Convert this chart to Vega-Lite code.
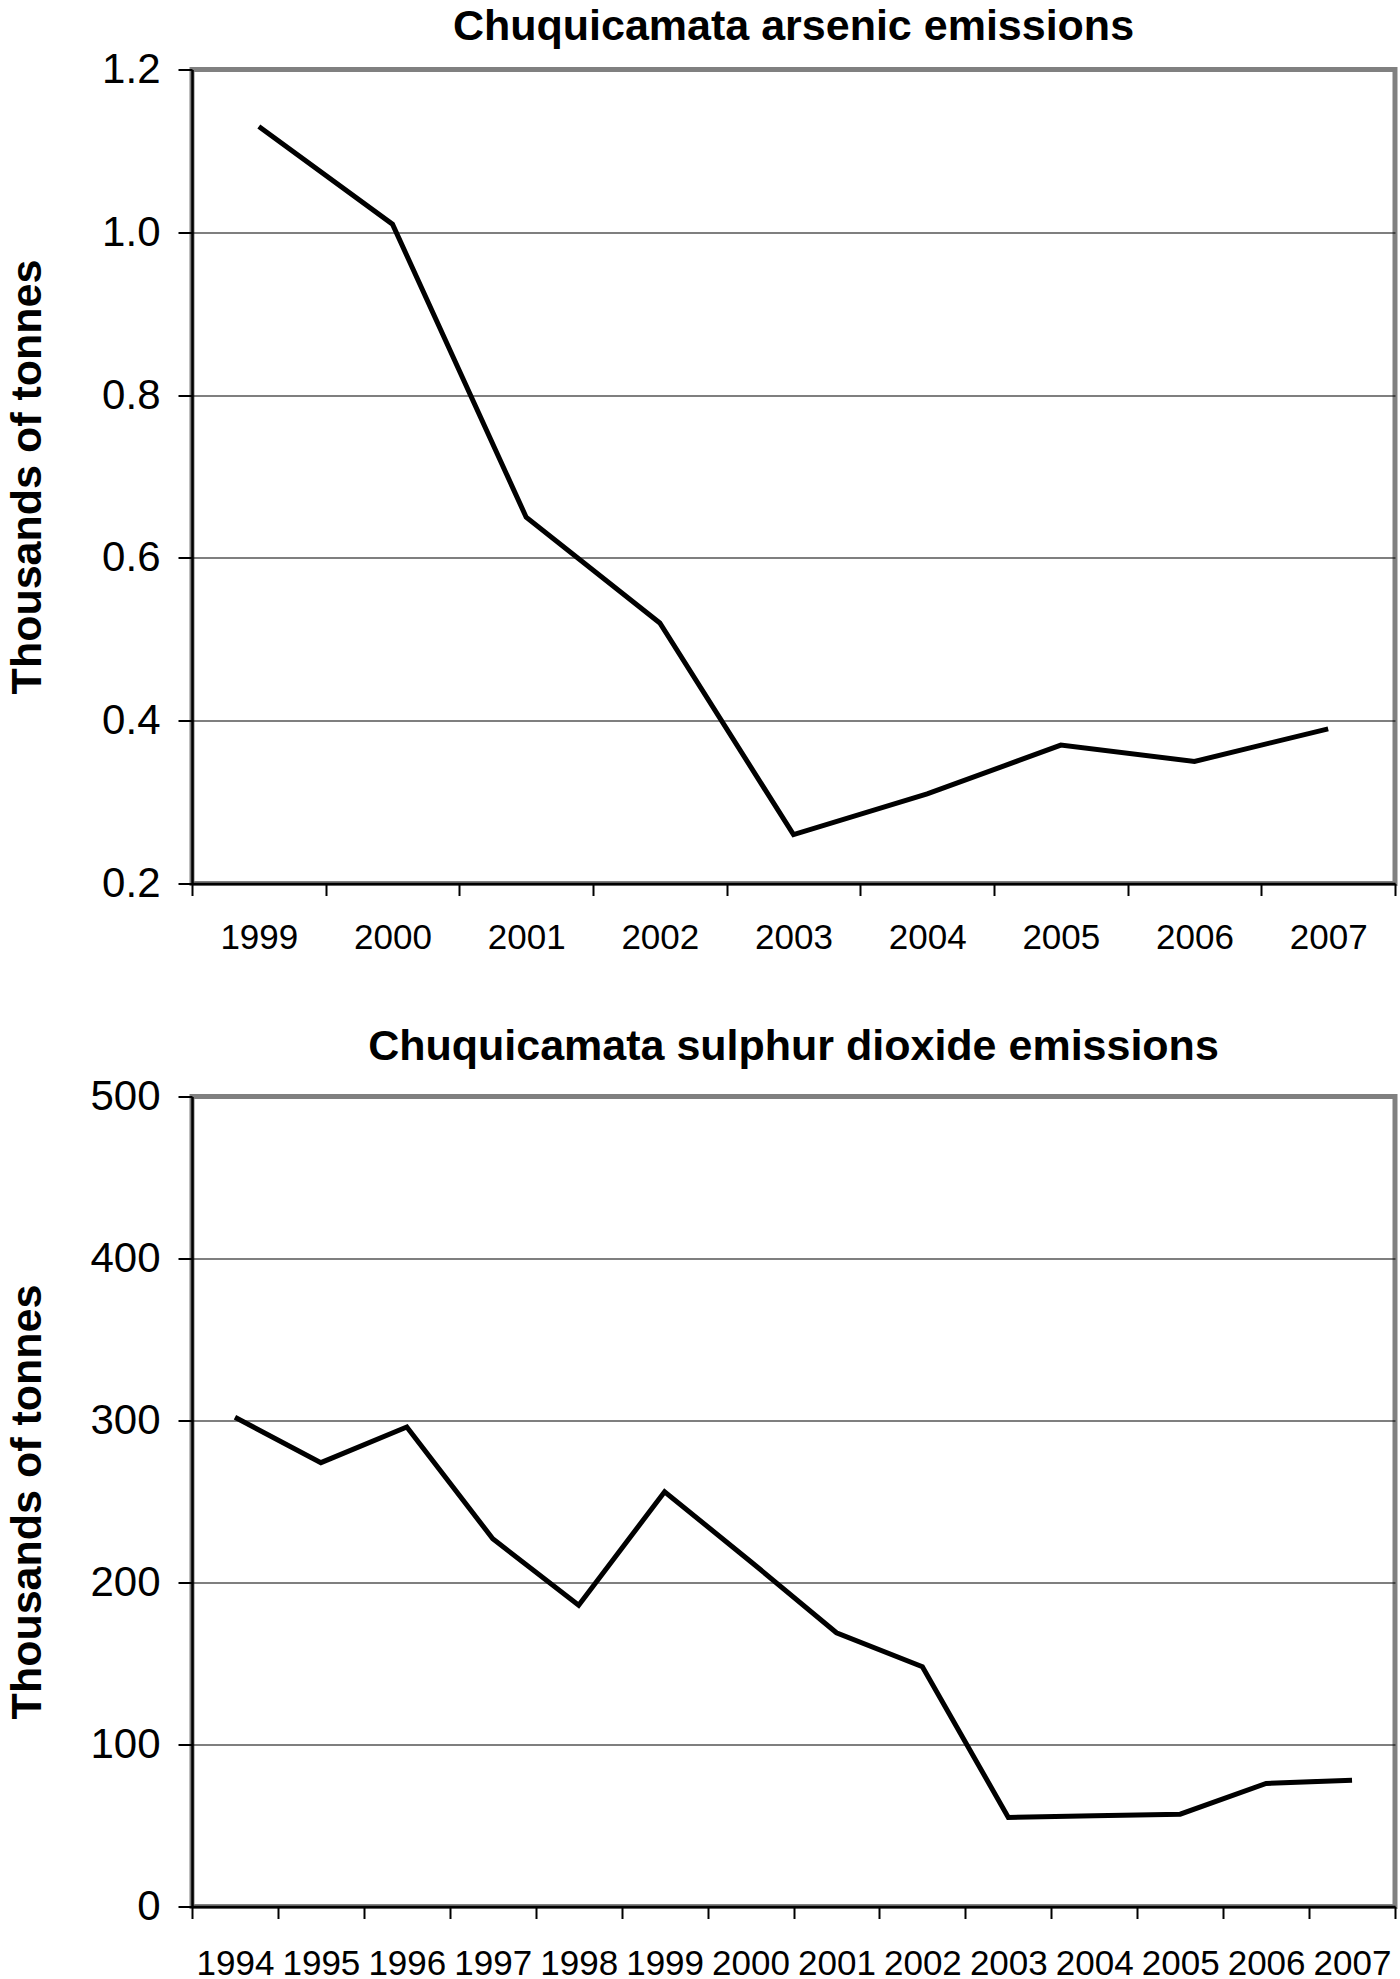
{
  "$schema": "https://vega.github.io/schema/vega-lite/v6.json",
  "padding": {"left": 3, "top": 2.5, "right": 0, "bottom": 0},
  "background": "white",
  "spacing": 213,
  "bounds": "flush",
  "config": {
    "view": {"stroke": "#808080", "strokeWidth": 5},
    "font": "Liberation Sans",
    "axis": {
      "domainColor": "black", "domainWidth": 2.5,
      "tickColor": "black", "tickWidth": 2,
      "gridColor": "black", "gridWidth": 1.2,
      "labelColor": "black", "titleColor": "black",
      "labelFont": "Liberation Sans", "titleFont": "Liberation Sans"
    },
    "title": {"fontSize": 43, "fontWeight": "bold", "color": "black", "font": "Liberation Sans"}
  },
  "vconcat": [
    {
      "title": {"text": "Chuquicamata arsenic emissions", "baseline": "alphabetic", "offset": -34, "frame": "group"},
      "width": 1203,
      "height": 814,
      "data": {"values": [
        {"year": "1999", "value": 1.13},
        {"year": "2000", "value": 1.01},
        {"year": "2001", "value": 0.65},
        {"year": "2002", "value": 0.52},
        {"year": "2003", "value": 0.26},
        {"year": "2004", "value": 0.31},
        {"year": "2005", "value": 0.37},
        {"year": "2006", "value": 0.35},
        {"year": "2007", "value": 0.39}
      ]},
      "mark": {"type": "line", "color": "black", "strokeWidth": 5},
      "encoding": {
        "x": {
          "field": "year", "type": "ordinal",
          "scale": {"type": "band", "paddingInner": 0, "paddingOuter": 0},
          "axis": {"title": null, "labelAngle": 0, "labelFontSize": 35, "tickBand": "extent", "tickSize": 12, "labelPadding": 25, "grid": false, "labelOverlap": false}
        },
        "y": {
          "field": "value", "type": "quantitative",
          "scale": {"domain": [0.2, 1.2], "nice": false, "zero": false},
          "axis": {
            "title": "Thousands of tonnes", "titleFontSize": 43, "titleFontWeight": "bold",
            "values": [0.2, 0.4, 0.6, 0.8, 1.0, 1.2], "format": ".1f",
            "labelFontSize": 42, "tickSize": 14, "labelPadding": 18, "titleX": -143,
            "grid": true,
            "gridOpacity": {"condition": {"test": "datum.value > 1.15", "value": 0}, "value": 1}
          }
        }
      }
    },
    {
      "title": {"text": "Chuquicamata sulphur dioxide emissions", "baseline": "alphabetic", "offset": -27, "frame": "group"},
      "width": 1203,
      "height": 810,
      "data": {"values": [
        {"year": "1994", "value": 302},
        {"year": "1995", "value": 274},
        {"year": "1996", "value": 296},
        {"year": "1997", "value": 227},
        {"year": "1998", "value": 186},
        {"year": "1999", "value": 256},
        {"year": "2000", "value": 213},
        {"year": "2001", "value": 169},
        {"year": "2002", "value": 148},
        {"year": "2003", "value": 55},
        {"year": "2004", "value": 56},
        {"year": "2005", "value": 57},
        {"year": "2006", "value": 76},
        {"year": "2007", "value": 78}
      ]},
      "mark": {"type": "line", "color": "black", "strokeWidth": 5},
      "encoding": {
        "x": {
          "field": "year", "type": "ordinal",
          "scale": {"type": "band", "paddingInner": 0, "paddingOuter": 0},
          "axis": {"title": null, "labelAngle": 0, "labelFontSize": 35, "tickBand": "extent", "tickSize": 12, "labelPadding": 28, "grid": false, "labelOverlap": false}
        },
        "y": {
          "field": "value", "type": "quantitative",
          "scale": {"domain": [0, 500], "nice": false, "zero": true},
          "axis": {
            "title": "Thousands of tonnes", "titleFontSize": 43, "titleFontWeight": "bold",
            "values": [0, 100, 200, 300, 400, 500],
            "labelFontSize": 42, "tickSize": 14, "labelPadding": 18, "titleX": -143,
            "grid": true,
            "gridOpacity": {"condition": {"test": "datum.value > 450", "value": 0}, "value": 1}
          }
        }
      }
    }
  ]
}
